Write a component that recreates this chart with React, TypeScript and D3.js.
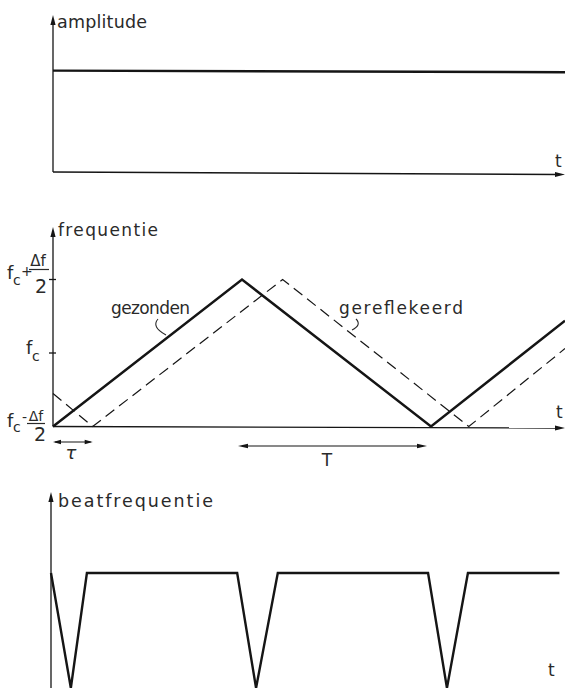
import React from 'react';
import * as d3 from 'd3';

// ---------- data ----------
const panelTitles = ['amplitude', 'frequentie', 'beatfrequentie'];
const timeLabel = 't';

// panel 1: constant amplitude
const amplitudeTime = [0, 2.709];
const amplitudeValue = [1, 0.985];

// panel 2: transmitted (gezonden) and reflected (gereflekeerd) frequency, in units of Δf/2 around fc
const sentTime = [0, 1, 2, 2.709];
const sentFreq = [-1, 1, -1, 0.44];
const reflTime = [0, 0.21, 1.215, 2.2, 2.709];
const reflFreq = [-0.55, -1, 1, -1, 0.06];
const seriesNames = ['gezonden', 'gereflekeerd'];
const freqTicks = [1, 0, -1];
const tauSpan = [0, 0.21];
const periodSpan = [0.979, 1.979];
const tauLabel = 'τ';
const periodLabel = 'T';

// panel 3: beat frequency
const beatTime = [0, 0.105, 0.19, 0.985, 1.085, 1.2, 1.995, 2.095, 2.206, 2.69];
const beatValue = [1, 0, 1, 1, 0, 1, 1, 0, 1, 1];

const W = 565;
const H = 688;
const FONT = '"DejaVu Sans", sans-serif';
const INK = '#151515';
const TXT = '#2a2a2a';

const zip = (a: number[], b: number[]) => a.map((v, i) => [v, b[i]] as [number, number]);

function Arrow({ x, y, dir, len = 10, half = 2.6 }: { x: number; y: number; dir: 'up' | 'right' | 'left'; len?: number; half?: number }) {
  let d = '';
  if (dir === 'up') d = `M${x},${y} L${x - half},${y + len} L${x + half},${y + len} Z`;
  if (dir === 'right') d = `M${x},${y} L${x - len},${y - half} L${x - len},${y + half} Z`;
  if (dir === 'left') d = `M${x},${y} L${x + len},${y - half} L${x + len},${y + half} Z`;
  return <path d={d} fill={INK} />;
}

export default function App() {
  // ----- panel 1 -----
  const x1 = d3.scaleLinear().domain([0, 2.709]).range([53, 565]);
  const y1 = d3.scaleLinear().domain([0, 1.5]).range([172, 20]);
  const line1 = d3.line<[number, number]>().x(d => x1(d[0])).y(d => y1(d[1]));

  // ----- panel 2 -----
  const x2 = d3.scaleLinear().domain([0, 2.709]).range([53, 565]);
  const y2 = d3.scaleLinear().domain([-1, 1]).range([426.5, 279.5]);
  const line2 = d3.line<[number, number]>().x(d => x2(d[0])).y(d => y2(d[1]));

  // ----- panel 3 -----
  const x3 = d3.scaleLinear().domain([0, 2.709]).range([51, 563]);
  const y3 = d3.scaleLinear().domain([0, 1]).range([688, 573]);
  const line3 = d3.line<[number, number]>().x(d => x3(d[0])).y(d => y3(d[1]));

  const ax1 = x1(0);
  const ax2 = x2(0);
  const ax3 = x3(0);
  const base2 = y2(-1);

  const tickY = freqTicks.map(v => y2(v));

  return (
    <svg width={W} height={H} style={{ position: 'fixed', left: 0, top: 0, background: '#fff' }} fontFamily={FONT}>
      <rect width={W} height={H} fill="#fff" />

      {/* ================= panel 1 ================= */}
      <line x1={ax1} y1={y1(0)} x2={ax1} y2={24} stroke={INK} strokeWidth={1.3} />
      <Arrow x={ax1} y={15} dir="up" />
      <line x1={ax1} y1={y1(0)} x2={558} y2={y1(0) + 2.5} stroke={INK} strokeWidth={1.3} />
      <Arrow x={565} y={y1(0) + 2.5} dir="right" />
      <text x={57} y={28} fontSize={17.5} fill={TXT} textLength={90} lengthAdjust="spacing">{panelTitles[0]}</text>
      <text x={555} y={167} fontSize={17} fill={TXT}>{timeLabel}</text>
      <path d={line1(zip(amplitudeTime, amplitudeValue)) || ''} fill="none" stroke={INK} strokeWidth={2.4} />

      {/* ================= panel 2 ================= */}
      <line x1={ax2} y1={base2} x2={ax2} y2={236} stroke={INK} strokeWidth={1.3} />
      <Arrow x={ax2} y={227} dir="up" />
      <line x1={ax2} y1={base2} x2={558} y2={base2 + 1.5} stroke={INK} strokeWidth={1.3} />
      <Arrow x={565} y={base2 + 1.5} dir="right" />
      <text x={58} y={236} fontSize={17} fill={TXT} textLength={100} lengthAdjust="spacing">{panelTitles[1]}</text>
      <text x={556} y={418} fontSize={17} fill={TXT}>{timeLabel}</text>

      {/* y ticks */}
      {tickY.slice(0, 2).map((ty, i) => (
        <line key={i} x1={ax2 - 4} y1={ty} x2={ax2 + 3} y2={ty} stroke={INK} strokeWidth={1.3} />
      ))}

      {/* fc + Δf/2 */}
      <g fill={TXT}>
        <text x={7} y={tickY[0] - 1} fontSize={18}>f</text>
        <text x={13} y={tickY[0] + 5} fontSize={14}>c</text>
        <text x={21} y={tickY[0] - 4} fontSize={14}>+</text>
        <text x={38} y={tickY[0] - 14} fontSize={15} textAnchor="middle">Δf</text>
        <line x1={29} y1={tickY[0] - 10} x2={49} y2={tickY[0] - 10} stroke={TXT} strokeWidth={1.2} />
        <text x={41} y={tickY[0] + 13} fontSize={19} textAnchor="middle">2</text>
      </g>
      {/* fc */}
      <g fill={TXT}>
        <text x={26} y={tickY[1] + 1} fontSize={18}>f</text>
        <text x={32} y={tickY[1] + 8} fontSize={14}>c</text>
      </g>
      {/* fc - Δf/2 */}
      <g fill={TXT}>
        <text x={7} y={tickY[2]} fontSize={18}>f</text>
        <text x={13} y={tickY[2] + 5} fontSize={14}>c</text>
        <text x={22} y={tickY[2] - 5} fontSize={14}>-</text>
        <text x={36} y={tickY[2] - 6} fontSize={14} textAnchor="middle">Δf</text>
        <line x1={27} y1={tickY[2] - 3} x2={45} y2={tickY[2] - 3} stroke={TXT} strokeWidth={1.2} />
        <text x={40} y={tickY[2] + 14} fontSize={19} textAnchor="middle">2</text>
      </g>

      {/* signals */}
      <path d={line2(zip(reflTime, reflFreq)) || ''} fill="none" stroke={INK} strokeWidth={1.2} strokeDasharray="11 6" />
      <path d={line2(zip(sentTime, sentFreq)) || ''} fill="none" stroke={INK} strokeWidth={2.5} strokeLinejoin="miter" />

      {/* series labels with leaders */}
      <text x={111} y={314} fontSize={17} fill={TXT} textLength={79} lengthAdjust="spacing">{seriesNames[0]}</text>
      <path d="M158,319 Q151,327 166,335" fill="none" stroke={TXT} strokeWidth={1.1} />
      <text x={339} y={314} fontSize={17} fill={TXT} textLength={124} lengthAdjust="spacing">{seriesNames[1]}</text>
      <path d="M356,319 Q362,325 352,330" fill="none" stroke={TXT} strokeWidth={1.1} />

      {/* τ arrow */}
      <line x1={x2(tauSpan[0]) + 2} y1={442} x2={x2(tauSpan[1]) - 2} y2={442} stroke={INK} strokeWidth={1.1} />
      <Arrow x={x2(tauSpan[0])} y={442} dir="left" len={8} half={2.2} />
      <Arrow x={x2(tauSpan[1])} y={442} dir="right" len={8} half={2.2} />
      <text x={(x2(tauSpan[0]) + x2(tauSpan[1])) / 2 - 2} y={459} fontSize={18} fill={TXT} textAnchor="middle" fontStyle="italic">{tauLabel}</text>

      {/* T arrow */}
      <line x1={x2(periodSpan[0]) + 4} y1={446} x2={x2(periodSpan[1]) - 4} y2={446} stroke={INK} strokeWidth={1.1} />
      <Arrow x={x2(periodSpan[0])} y={446} dir="left" len={10} half={2.2} />
      <Arrow x={x2(periodSpan[1])} y={446} dir="right" len={10} half={2.2} />
      <text x={327} y={466} fontSize={17} fill={TXT} textAnchor="middle">{periodLabel}</text>

      {/* ================= panel 3 ================= */}
      <line x1={ax3} y1={H + 5} x2={ax3} y2={501} stroke={INK} strokeWidth={1.3} />
      <Arrow x={ax3} y={492} dir="up" />
      <text x={58} y={507} fontSize={17.5} fill={TXT} textLength={155} lengthAdjust="spacing">{panelTitles[2]}</text>
      <text x={548} y={676} fontSize={17} fill={TXT}>{timeLabel}</text>
      <path d={line3(zip(beatTime, beatValue)) || ''} fill="none" stroke={INK} strokeWidth={2.4} strokeLinejoin="miter" />
    </svg>
  );
}
